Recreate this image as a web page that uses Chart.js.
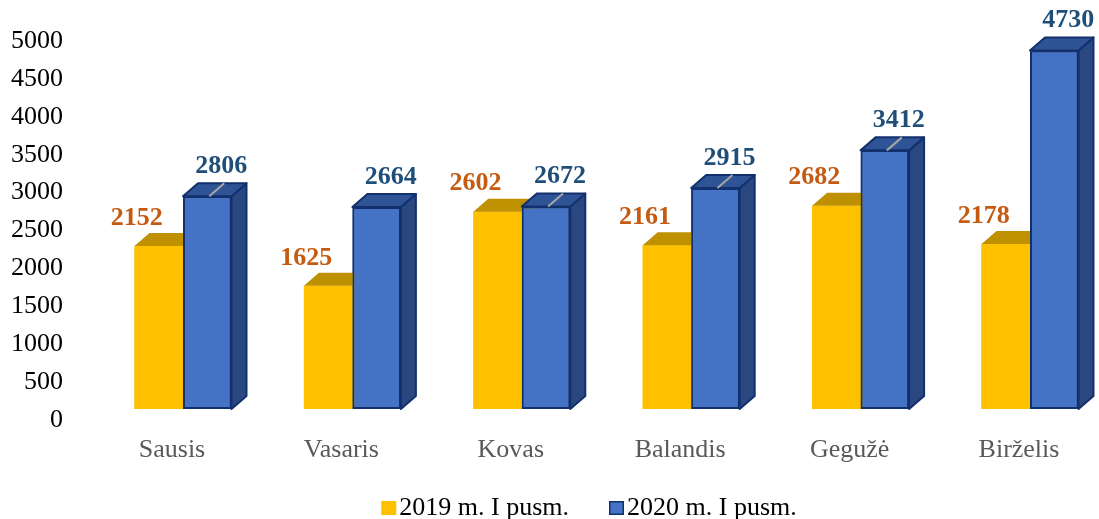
<!DOCTYPE html>
<html>
<head>
<meta charset="utf-8">
<script src="https://cdn.jsdelivr.net/npm/chart.js@4.4.0/dist/chart.umd.min.js"></script>
<style>
    html, body { margin: 0; padding: 0; background: #fff; }
</style>
</head>
<body>
<canvas id="chart" width="1099" height="519"></canvas>
<script>
// Data
const months = ['Sausis', 'Vasaris', 'Kovas', 'Balandis', 'Gegužė', 'Birželis'];
const seriesNames = ['2019 m. I pusm.', '2020 m. I pusm.'];
const values2019 = [2152, 1625, 2602, 2161, 2682, 2178];
const values2020 = [2806, 2664, 2672, 2915, 3412, 4730];
const yMin = 0;
const yMax = 5000;
const yStep = 500;

const FONT = '"Liberation Serif", "Times New Roman", serif';
const DX = 15, DY = 13; // depth of the fake 3D

// Redraw bars left to right with their top and side faces
const bar3d = {
    id: 'bar3d',
    afterDatasetsDraw(chart) {
        const ctx = chart.ctx;
        ctx.save();
        ctx.lineJoin = 'round';
        chart.data.datasets.forEach((ds, i) => {
            chart.getDatasetMeta(i).data.forEach(bar => {
                bar.draw(ctx);
                const { x, y, base, width } = bar.getProps(['x', 'y', 'base', 'width'], true);
                const l = x - width / 2, r = x + width / 2;
                // side
                ctx.beginPath();
                ctx.moveTo(r, y);
                ctx.lineTo(r + DX, y - DY);
                ctx.lineTo(r + DX, base - DY);
                ctx.lineTo(r, base);
                ctx.closePath();
                ctx.fillStyle = ds.sideColor;
                ctx.fill();
                if (ds.borderWidth) { ctx.strokeStyle = ds.borderColor; ctx.lineWidth = ds.borderWidth; ctx.stroke(); }
                // top
                ctx.beginPath();
                ctx.moveTo(l, y);
                ctx.lineTo(l + DX, y - DY);
                ctx.lineTo(r + DX, y - DY);
                ctx.lineTo(r, y);
                ctx.closePath();
                ctx.fillStyle = ds.topColor;
                ctx.fill();
                if (ds.borderWidth) { ctx.stroke(); }
            });
        });
        ctx.restore();
    }
};

// Data labels, leader lines and the legend
const labelsAndLegend = {
    id: 'labelsAndLegend',
    afterDraw(chart) {
        const ctx = chart.ctx;
        ctx.save();
        chart.data.datasets.forEach((ds, i) => {
            const meta = chart.getDatasetMeta(i);
            meta.data.forEach((bar, j) => {
                if (ds.leaders && ds.leaders.includes(j)) {
                    ctx.strokeStyle = '#A6A6A6';
                    ctx.lineWidth = 2;
                    ctx.beginPath();
                    ctx.moveTo(bar.x + 2, bar.y);
                    ctx.lineTo(bar.x + 17, bar.y - DY);
                    ctx.stroke();
                }
                ctx.font = 'bold 26px ' + FONT;
                ctx.fillStyle = ds.labelColor;
                ctx.textAlign = 'center';
                ctx.textBaseline = 'middle';
                ctx.fillText(String(ds.data[j]), bar.x + ds.labelDx, bar.y + ds.labelDy);
            });
        });

        // legend
        ctx.font = '26px ' + FONT;
        ctx.textAlign = 'left';
        ctx.textBaseline = 'alphabetic';
        const box = 15, gapText = 3, gapItem = 40;
        const widths = chart.data.datasets.map(ds => ctx.measureText(ds.label).width);
        const total = widths.reduce((a, w) => a + box + gapText + w, 0) + gapItem * (widths.length - 1);
        let x = 589 - total / 2;
        const baseY = 515;
        chart.data.datasets.forEach((ds, i) => {
            ctx.fillStyle = ds.backgroundColor;
            ctx.fillRect(x, baseY - 14, box, box - 1);
            if (ds.borderWidth) {
                ctx.strokeStyle = ds.borderColor;
                ctx.lineWidth = 1.5;
                ctx.strokeRect(x + 0.75, baseY - 13.25, box - 1.5, box - 2.5);
            }
            ctx.fillStyle = '#000';
            ctx.fillText(ds.label, x + box + gapText, baseY);
            x += box + gapText + widths[i] + gapItem;
        });
        ctx.restore();
    }
};

new Chart(document.getElementById('chart'), {
    type: 'bar',
    data: {
        labels: months,
        datasets: [
            {
                label: seriesNames[0],
                data: values2019,
                backgroundColor: '#FFC000',
                borderWidth: 0,
                topColor: '#BF9000',
                sideColor: '#BF9000',
                labelColor: '#C55A11',
                labelDx: -22,
                labelDy: -28,
                clip: false
            },
            {
                label: seriesNames[1],
                data: values2020,
                backgroundColor: '#4472C4',
                borderColor: '#12306E',
                borderWidth: 2,
                borderSkipped: false,
                topColor: '#2F5496',
                sideColor: '#2A4780',
                labelColor: '#1F4E79',
                labelDx: 14,
                labelDy: -30,
                leaders: [0, 2, 3, 4],
                clip: false
            }
        ]
    },
    options: {
        responsive: false,
        animation: false,
        devicePixelRatio: 1,
        layout: { padding: { top: 30, right: 69, bottom: 0, left: 0 } },
        categoryPercentage: 0.5726,
        barPercentage: 1,
        plugins: {
            legend: { display: false },
            tooltip: { enabled: false }
        },
        scales: {
            x: {
                offset: false,
                grid: { display: false },
                border: { display: false },
                ticks: {
                    color: '#595959',
                    font: { family: FONT, size: 26 },
                    padding: 18,
                    labelOffset: -11,
                    maxRotation: 0,
                    autoSkip: false
                },
                afterFit: s => { s.height = 110; s.paddingLeft = 0; s.paddingRight = 0; }
            },
            y: {
                min: yMin,
                max: yMax,
                grid: { display: false },
                border: { display: false },
                ticks: {
                    stepSize: yStep,
                    color: '#000',
                    font: { family: FONT, size: 26 },
                    padding: 112,
                    labelOffset: 11,
                    callback: v => String(v)
                },
                afterFit: s => { s.width = 183; s.paddingTop = 0; s.paddingBottom = 0; }
            }
        }
    },
    plugins: [bar3d, labelsAndLegend]
});
</script>
</body>
</html>
